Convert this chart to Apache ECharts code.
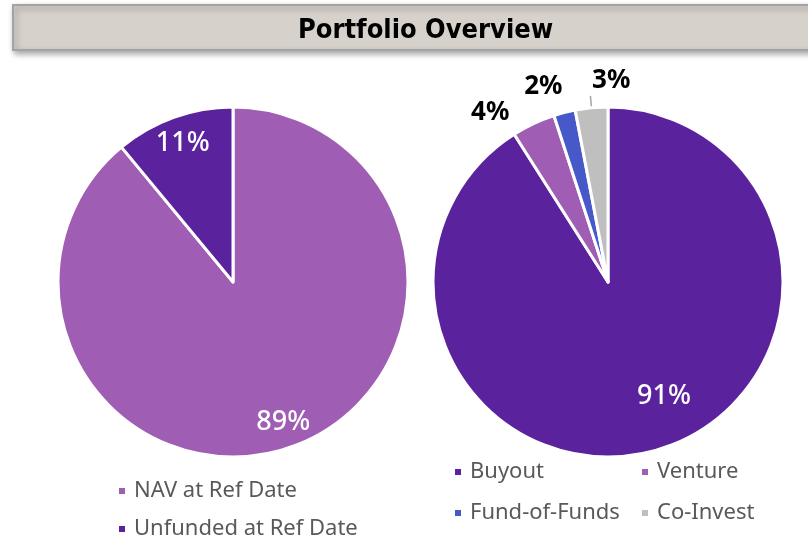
<!DOCTYPE html>
<html>
<head>
<meta charset="UTF-8">
<title>Portfolio Overview</title>
<script src="https://cdn.jsdelivr.net/npm/echarts@6/dist/echarts.min.js"></script>
<style>
  html, body { margin: 0; padding: 0; background: #fff; }
  #chart { width: 808px; height: 535px; }
</style>
</head>
<body>
<div id="chart"></div>
<script>
// left pie: NAV vs unfunded
var navNames = ['NAV at Ref Date', 'Unfunded at Ref Date'];
var navValues = [89, 11];
// right pie: strategy split
var stratNames = ['Buyout', 'Venture', 'Fund-of-Funds', 'Co-Invest'];
var stratValues = [91, 4, 2, 3];

var darkPurple = '#5B229D';
var lightPurple = '#A05DB4';
var colorsLeft = [lightPurple, darkPurple];
var colorsRight = [darkPurple, lightPurple, '#4759C8', '#BFBFBF'];
var font = '"Noto Sans", Roboto, sans-serif';

function toData(names, values, colors) {
  return names.map(function (n, i) {
    return { name: n, value: values[i], itemStyle: { color: colors[i] } };
  });
}

var chart = echarts.init(document.getElementById('chart'));

var leftData = toData(navNames, navValues, colorsLeft);
var rightData = toData(stratNames, stratValues, colorsRight);
// only the small slices get outside labels
rightData.forEach(function (d, i) {
  d.label = { show: i > 0 };
  d.labelLine = { show: i === 3 };
});

// offsets for the outside labels (venture, fof, co-invest)
var outsideShift = [[0, 0], [-14, 0], [6, -14], [45, -15]];

var legendText = { fontFamily: font, fontSize: 22, color: '#595959', padding: [0, 0, 0, 3] };

var option = {
  animation: false,
  graphic: [{
    type: 'rect',
    shape: { x: 13, y: 5, width: 810, height: 45 },
    style: {
      fill: '#D6D1CB', stroke: '#A3A3A3', lineWidth: 2,
      shadowBlur: 6, shadowOffsetX: 2, shadowOffsetY: 3, shadowColor: 'rgba(0,0,0,0.35)'
    },
    z: -1
  }],
  title: {
    text: 'Portfolio Overview',
    left: 293,
    top: 12,
    textStyle: {
      fontFamily: '"Liberation Sans Narrow", "DejaVu Sans Condensed", sans-serif',
      fontSize: 27, fontWeight: 'bold', color: '#000'
    }
  },
  legend: [{
    data: navNames,
    orient: 'vertical',
    left: 112, top: 475, height: 80,
    icon: 'rect', itemWidth: 8, itemHeight: 8, itemGap: 16,
    textStyle: legendText
  }, {
    data: ['Buyout', 'Fund-of-Funds'],
    orient: 'vertical',
    left: 448, top: 456, height: 80,
    icon: 'rect', itemWidth: 8, itemHeight: 8, itemGap: 19,
    textStyle: legendText
  }, {
    data: ['Venture', 'Co-Invest'],
    orient: 'vertical',
    left: 635, top: 456, height: 80,
    icon: 'rect', itemWidth: 8, itemHeight: 8, itemGap: 19,
    textStyle: legendText
  }],
  series: [{
    type: 'pie',
    center: [233, 282],
    radius: [0, 175],
    startAngle: 90,
    data: leftData,
    label: { show: false },
    labelLine: { show: false },
    itemStyle: { borderColor: '#fff', borderWidth: 3 },
    silent: true
  }, {
    // transparent ring only used to place the inside labels further out
    type: 'pie',
    center: [233, 282],
    radius: [116, 175],
    startAngle: 90,
    data: navNames.map(function (n, i) { return { name: n, value: navValues[i] }; }),
    itemStyle: { color: 'rgba(0,0,0,0)', borderWidth: 0 },
    label: {
      show: true, position: 'inside', formatter: '{c}%',
      fontFamily: font, fontSize: 27, fontWeight: 500, color: '#fff'
    },
    labelLayout: { dy: 1 },
    labelLine: { show: false },
    silent: true
  }, {
    type: 'pie',
    center: [608, 282],
    radius: [0, 175],
    startAngle: 90,
    avoidLabelOverlap: false,
    data: rightData,
    label: {
      position: 'outside', formatter: '{c}%',
      fontFamily: font, fontSize: 26, fontWeight: 'bold', color: '#000'
    },
    labelLine: { length: 12, length2: 0, lineStyle: { color: '#A6A6A6', width: 1.5 } },
    labelLayout: function (p) {
      var s = outsideShift[p.dataIndex];
      return { dx: s[0], dy: s[1] };
    },
    itemStyle: { borderColor: '#fff', borderWidth: 3 },
    silent: true
  }, {
    type: 'pie',
    center: [608, 282],
    radius: [77, 175],
    startAngle: 90,
    data: stratNames.map(function (n, i) {
      return { name: n, value: stratValues[i], label: { show: i === 0 } };
    }),
    itemStyle: { color: 'rgba(0,0,0,0)', borderWidth: 0 },
    label: {
      position: 'inside', formatter: '{c}%',
      fontFamily: font, fontSize: 27, fontWeight: 500, color: '#fff'
    },
    labelLayout: { dx: 20, dy: -10 },
    labelLine: { show: false },
    silent: true
  }]
};

chart.setOption(option);
</script>
</body>
</html>
